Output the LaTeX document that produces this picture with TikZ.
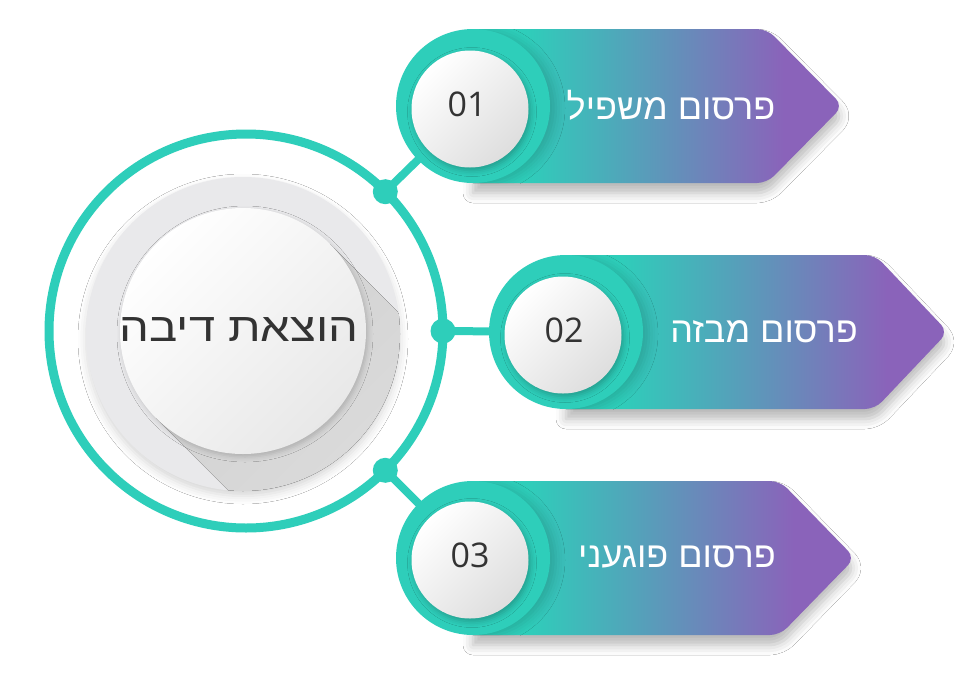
\documentclass[tikz,border=0pt]{standalone}
\usepackage{fontspec}
\usepackage{graphicx}
\TeXXeTstate=1
\newfontfamily\hebfont[Script=Hebrew]{Liberation Sans}
\newfontfamily\numfont{Open Sans}
\usetikzlibrary{shadows.blur}
\definecolor{tealc}{RGB}{46,206,186}
\definecolor{purp}{RGB}{138,99,186}
\definecolor{diskgrey}{RGB}{233,233,235}
\definecolor{txtdark}{RGB}{51,51,51}
\pgfdeclarehorizontalshading{bannershade}{100bp}{color(0bp)=(tealc); color(32bp)=(tealc); color(67bp)=(purp); color(100bp)=(purp)}
\tikzset{
  bannerbody/.style={shading=bannershade, shading angle=0,
    blur shadow={shadow xshift=0pt, shadow yshift=-10pt, shadow blur radius=10pt, shadow opacity=28}},
  discshadow/.style={blur shadow={shadow xshift=6pt, shadow yshift=-2pt, shadow blur radius=9pt, shadow opacity=16}},
  tealdisc/.style={circle, fill=tealc, minimum size=154pt, inner sep=0pt, outer sep=0pt},
  whitedisc/.style={circle, minimum size=117pt, inner sep=0pt, outer sep=0pt,
    top color=white, bottom color=black!13, shading angle=45,
    blur shadow={shadow xshift=2pt, shadow yshift=-3pt, shadow blur radius=6pt, shadow opacity=25}},
  numtext/.style={font=\numfont\fontsize{34}{40}\selectfont, text=txtdark, inner sep=0pt},
  conn/.style={draw=tealc, line width=8pt},
  ringdot/.style={circle, fill=tealc, minimum size=25pt, inner sep=0pt, outer sep=0pt},
  bantext/.style={text=white, font=\hebfont\fontsize{36}{40}\selectfont, inner sep=0pt},
}
\begin{document}
\begin{tikzpicture}[x=1pt,y=-1pt]
\useasboundingbox (0,0) rectangle (978,697);
\fill[white] (0,0) rectangle (978,697);

% central ring
\node[circle, draw=tealc, line width=9pt, minimum size=394pt, inner sep=0pt, outer sep=0pt] (ring) at (246,331) {};
% grey disc
\node[circle, fill=diskgrey, minimum size=314pt, inner sep=0pt, outer sep=0pt,
  blur shadow={shadow xshift=0pt, shadow yshift=-5pt, shadow blur radius=8pt, shadow opacity=16}] (gdisc) at (243,334) {};
% long shadow
\begin{scope}
  \clip (243,334) circle[radius=157pt];
  \fill[top color=black!18, bottom color=black!9, shading angle=45] (330,244) -- (156,418) -- (456,718) -- (630,544) -- cycle;
\end{scope}
% white disc
\node[circle, minimum size=246pt, inner sep=0pt, outer sep=0pt,
  top color=white, bottom color=black!9, shading angle=45,
  blur shadow={shadow xshift=2pt, shadow yshift=-3pt, shadow blur radius=5pt, shadow opacity=18}] (center) at (243,331) {};
\node[text=txtdark, font=\hebfont\fontsize{40}{44}\selectfont, inner sep=0pt] (ctext) at (239,330) {\scalebox{1.18}[1]{\beginR הוצאת דיבה\endR}};

% dots on the ring
\node[ringdot] (d1) at (ring.45) {};
\node[ringdot] (d2) at (ring.0) {};
\node[ringdot] (d3) at (ring.-45) {};

% ---------- banner 1
\coordinate (p1) at (473,106);
\draw[conn] (d1.center) -- (p1);
\path[bannerbody] (473,29) [rounded corners=10pt] -- (767,29) -- (843,106) -- (767,183) [sharp corners] -- (473,183) -- cycle;
\begin{scope}
  \clip (473,29) -- (843,29) -- (843,183) -- (473,183) -- cycle;
  \path[discshadow] (p1) circle[radius=77pt];
\end{scope}
\node[tealdisc] (c1) at (p1) {};
\node[whitedisc] (w1) at (470,109) {};
\node[numtext] (n1) at (467,104) {01};
\node[bantext] (t1) at (671,105) {\beginR פרסום משפיל\endR};

% ---------- banner 2
\coordinate (p2) at (566,332);
\draw[conn] (d2.center) -- (p2);
\path[bannerbody] (566,255) [rounded corners=10pt] -- (875,255) -- (948,332) -- (875,409) [sharp corners] -- (566,409) -- cycle;
\begin{scope}
  \clip (566,255) -- (948,255) -- (948,409) -- (566,409) -- cycle;
  \path[discshadow] (p2) circle[radius=77pt];
\end{scope}
\node[tealdisc] (c2) at (p2) {};
\node[whitedisc] (w2) at (563,335) {};
\node[numtext] (n2) at (564,330) {02};
\node[bantext] (t2) at (764,332) {\beginR פרסום מבזה\endR};

% ---------- banner 3
\coordinate (p3) at (473,558);
\draw[conn] (d3.center) -- (p3);
\path[bannerbody] (473,481) [rounded corners=10pt] -- (780,481) -- (855,558) -- (780,635) [sharp corners] -- (473,635) -- cycle;
\begin{scope}
  \clip (473,481) -- (855,481) -- (855,635) -- (473,635) -- cycle;
  \path[discshadow] (p3) circle[radius=77pt];
\end{scope}
\node[tealdisc] (c3) at (p3) {};
\node[whitedisc] (w3) at (470,560) {};
\node[numtext] (n3) at (470,555) {03};
\node[bantext] (t3) at (677,557) {\beginR פרסום פוגעני\endR};
\end{tikzpicture}
\end{document}
